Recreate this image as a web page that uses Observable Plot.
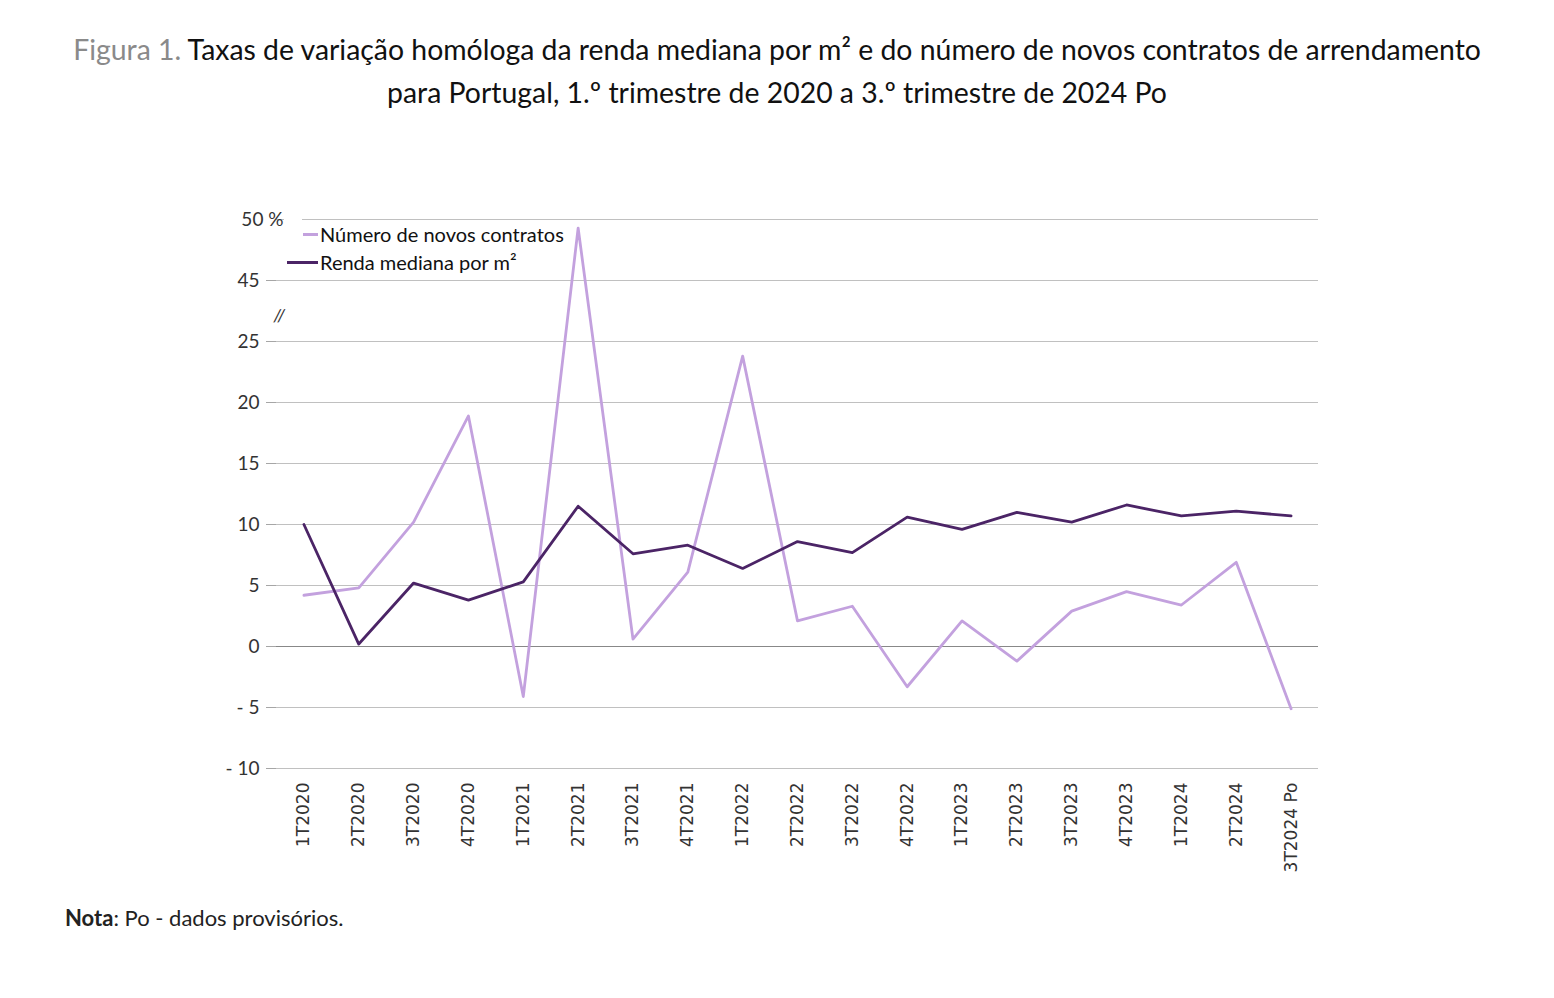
<!DOCTYPE html>
<html>
<head>
<meta charset="utf-8">
<script src="https://cdn.jsdelivr.net/npm/d3@7"></script>
<script src="https://cdn.jsdelivr.net/npm/@observablehq/plot@0.6"></script>
<style>
  html, body { margin: 0; padding: 0; background: #fff; }
  body { width: 1554px; height: 998px; position: relative; overflow: hidden; font-family: Lato, "Open Sans", sans-serif; color: #111; }
  #title { position: absolute; top: 28px; left: 0; width: 1554px; text-align: center; font-size: 28.4px; line-height: 43px; color: #111; }
  #title .fig { color: #8a8a8a; }
  #chart { position: absolute; top: 200px; left: 0; }
  #legend { position: absolute; left: 277px; top: 212px; font-size: 20px; color: #111; }
  #legend .mask { position: absolute; left: 7px; top: 0; width: 18px; height: 26px; background: #fff; }
  #legend .row { position: absolute; white-space: nowrap; display: flex; align-items: center; height: 26px; }
  #legend .sw { display: inline-block; height: 3px; margin-right: 2px; }
  #nota { position: absolute; left: 65px; top: 904px; font-size: 22px; color: #222; }
</style>
</head>
<body>
<div id="title"><span class="fig">Figura 1.</span> Taxas de variação homóloga da renda mediana por m² e do número de novos contratos de arrendamento<br>para Portugal, 1.º trimestre de 2020 a 3.º trimestre de 2024 Po</div>
<div id="chart"></div>
<div id="legend">
  <div class="mask"></div>
  <div class="row" style="left:26px; top:9px;"><span class="sw" style="width:15px;background:#c3a1de"></span>Número de novos contratos</div>
  <div class="row" style="left:10px; top:37px;"><span class="sw" style="width:31px;background:#4b2466"></span>Renda mediana por m²</div>
</div>
<div id="nota"><b>Nota</b>: Po - dados provisórios.</div>
<script>
const quarters = ["1T2020","2T2020","3T2020","4T2020","1T2021","2T2021","3T2021","4T2021","1T2022","2T2022","3T2022","4T2022","1T2023","2T2023","3T2023","4T2023","1T2024","2T2024","3T2024 Po"];
const contratos = [4.2, 4.8, 10.2, 18.9, -4.1, 49.3, 0.6, 6.1, 23.8, 2.1, 3.3, -3.3, 2.1, -1.2, 2.9, 4.5, 3.4, 6.9, -5.1];
const renda = [10.0, 0.2, 5.2, 3.8, 5.3, 11.5, 7.6, 8.3, 6.4, 8.6, 7.7, 10.6, 9.6, 11.0, 10.2, 11.6, 10.7, 11.1, 10.7];
const yTicks = [-10, -5, 0, 5, 10, 15, 20, 25, 45, 50];
// axis break: values from 25 up to 45 are skipped
const breakLow = 25, breakHigh = 45, breakGap = 15;
const f = v => v > breakLow ? v - breakGap : v;
const finv = d => d > breakLow ? d + breakGap : d;
const fmt = v => v < 0 ? "- " + (-v) : String(v);

const colorLight = "#c3a1de", colorDark = "#4b2466";

const plot = Plot.plot({
  width: 1554,
  height: 690,
  marginLeft: 276,
  marginRight: 236,
  marginTop: 19,
  marginBottom: 122,
  style: { fontFamily: "Lato, sans-serif", fontSize: "18px", color: "#333", background: "transparent" },
  x: { type: "point", domain: quarters, padding: 0.5, round: false },
  y: { domain: [f(-10), f(50)] },
  marks: [
    Plot.ruleY(yTicks.filter(v => v !== 0).map(f), { stroke: "#c0c0c0", strokeWidth: 1 }),
    Plot.ruleY([0], { stroke: "#888", strokeWidth: 1 }),
    Plot.ruleX([0], { frameAnchor: "left", y1: -10, y2: 26.1, stroke: "#a6a6a6" }),
    Plot.ruleX([0], { frameAnchor: "left", y1: 28.6, y2: 33.4, stroke: "#a6a6a6" }),
    Plot.text(["//"], { frameAnchor: "left", y: [27.1], text: d => d, dx: -3, fontSize: 18, fontStyle: "italic", fill: "#333" }),
    Plot.axisY(yTicks.filter(v => v !== 50).map(f), {
      tickFormat: d => fmt(finv(d)), tickSize: 10, tickPadding: 7, stroke: "#a6a6a6", fill: "#333", fontSize: 19
    }),
    Plot.text([50], { frameAnchor: "left", y: d => f(d), text: d => d + " %", textAnchor: "end", dx: 7, fill: "#333", fontSize: 19 }),
    Plot.axisX({ tickSize: 0, tickRotate: -90, tickPadding: 14, fontSize: 17, fontFamily: "DejaVu Sans", fill: "#333", label: null }),
    Plot.line(quarters, { x: d => d, y: (d, i) => f(contratos[i]), stroke: colorLight, strokeWidth: 2.8 }),
    Plot.line(quarters, { x: d => d, y: (d, i) => f(renda[i]), stroke: colorDark, strokeWidth: 2.8 })
  ]
});
document.getElementById("chart").appendChild(plot);
</script>
</body>
</html>
